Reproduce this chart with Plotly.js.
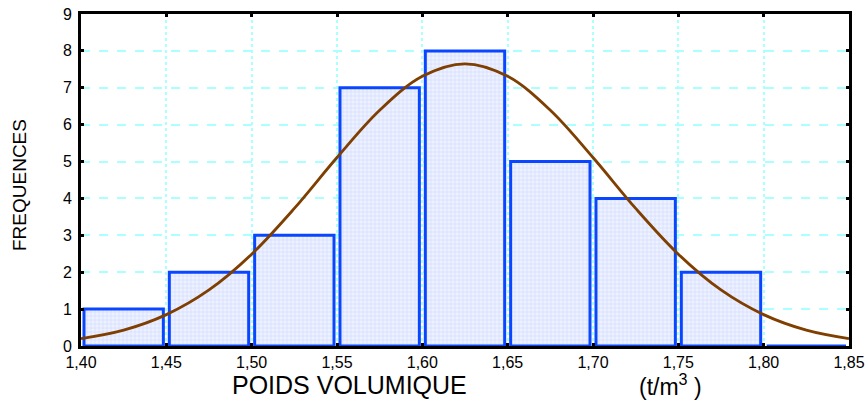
<!DOCTYPE html>
<html>
<head>
<meta charset="utf-8">
<script src="https://cdn.plot.ly/plotly-3.0.1.min.js"></script>
<style>html,body{margin:0;padding:0;background:#fff;}#chart{width:868px;height:407px;}</style>
</head>
<body>
<div id="chart"></div>
<script>
// Histogram bins (centres) and frequencies
var binCenters = [1.425, 1.475, 1.525, 1.575, 1.625, 1.675, 1.725, 1.775, 1.825];
var frequencies = [1, 2, 3, 7, 8, 5, 4, 2, 0];

// Fitted normal curve
var curveX = [1.400, 1.425, 1.450, 1.475, 1.500, 1.525, 1.550, 1.575, 1.600, 1.625, 1.650, 1.675, 1.700, 1.725, 1.750, 1.775, 1.800, 1.825, 1.850];
var curveY = [0.20, 0.43, 0.85, 1.52, 2.49, 3.73, 5.11, 6.39, 7.31, 7.65, 7.31, 6.39, 5.11, 3.73, 2.49, 1.52, 0.85, 0.43, 0.20];

var xTicks = [1.40, 1.45, 1.50, 1.55, 1.60, 1.65, 1.70, 1.75, 1.80, 1.85];
var yTicks = [0, 1, 2, 3, 4, 5, 6, 7, 8, 9];

var tickFont = {family: '"Liberation Sans", Arial, sans-serif', size: 16, color: '#000'};

var traces = [
  {
    type: 'bar',
    x: binCenters,
    y: frequencies,
    marker: {
      color: '#e4eafc',
      line: {color: '#0a46ff', width: 3},
      pattern: {shape: '+', size: 4, solidity: 0.25, fgcolor: '#c9d5ff', bgcolor: '#eef2ff'}
    },
    hoverinfo: 'skip'
  },
  {
    type: 'scatter',
    mode: 'lines',
    x: curveX,
    y: curveY,
    line: {color: '#7f3f00', width: 2.8, shape: 'spline'},
    hoverinfo: 'skip'
  }
];

var layout = {
  width: 868,
  height: 407,
  margin: {l: 81, r: 19, t: 14, b: 61},
  paper_bgcolor: '#fff',
  plot_bgcolor: '#fff',
  showlegend: false,
  separators: ', ',
  bargap: 0.07,
  xaxis: {
    range: [1.40, 1.85],
    tickvals: xTicks,
    tickformat: '.2f',
    tickfont: tickFont,
    showline: true, linecolor: '#000', linewidth: 3, mirror: 'ticks',
    ticks: 'inside', ticklen: 3, tickwidth: 3, tickcolor: '#000',
    showgrid: true, gridcolor: '#aaffff', gridwidth: 2, griddash: 'dot',
    zeroline: false
  },
  yaxis: {
    range: [0, 9],
    tickvals: yTicks,
    tickfont: tickFont,
    ticklabelstandoff: 3,
    showline: true, linecolor: '#000', linewidth: 3, mirror: 'ticks',
    ticks: 'inside', ticklen: 3, tickwidth: 3, tickcolor: '#000',
    showgrid: true, gridcolor: '#aaffff', gridwidth: 2, griddash: 'dash',
    zeroline: false
  },
  annotations: [
    {text: 'FREQUENCES', xref: 'paper', yref: 'paper', x: -0.0794, y: 0.485, xanchor: 'center', yanchor: 'middle', textangle: -90, showarrow: false,
     font: {family: '"Liberation Sans", Arial, sans-serif', size: 19, color: '#000'}},
    {text: 'POIDS VOLUMIQUE', xref: 'paper', yref: 'paper', x: 0.349, y: -0.1175, xanchor: 'center', yanchor: 'middle', showarrow: false,
     font: {family: '"Liberation Sans", Arial, sans-serif', size: 25, color: '#000'}},
    {text: '(t/m<sup>3</sup> )', xref: 'paper', yref: 'paper', x: 0.768, y: -0.1175, xanchor: 'center', yanchor: 'middle', showarrow: false,
     font: {family: '"Liberation Sans", Arial, sans-serif', size: 23, color: '#000'}}
  ]
};

Plotly.newPlot('chart', traces, layout, {displayModeBar: false, staticPlot: true});
</script>
</body>
</html>
